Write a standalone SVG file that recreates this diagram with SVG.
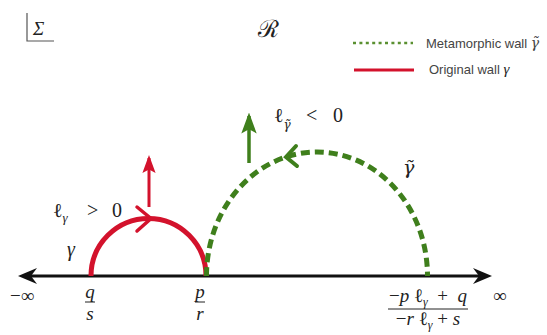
<svg xmlns="http://www.w3.org/2000/svg" width="547" height="335" viewBox="0 0 547 335">
<style>
.math{font-family:"Liberation Serif","DejaVu Serif",serif;fill:#222}
.it{font-style:italic}
.gt{font-family:"DejaVu Serif",serif;font-style:italic}
.leg{font-family:"Liberation Sans",Arial,sans-serif;font-size:13px;fill:#444}
.red{stroke:#d3122c;fill:none}
.grn{stroke:#3f7f1c;fill:none}
</style>
<defs>
<marker id="ahR" markerWidth="6" markerHeight="4.4" refX="5" refY="2.2" orient="auto" markerUnits="strokeWidth">
<path d="M0,0 L6,2.2 L0,4.4 L1.2,2.2 Z" fill="#d3122c"/>
</marker>
<marker id="ahG" markerWidth="6" markerHeight="4.4" refX="5" refY="2.2" orient="auto" markerUnits="strokeWidth">
<path d="M0,0 L6,2.2 L0,4.4 L1.2,2.2 Z" fill="#3f7f1c"/>
</marker>
</defs>
<rect width="547" height="335" fill="#fff"/>

<g id="sigma-box">
<path d="M27,13 V41 H54" stroke="#555" stroke-width="1.2" fill="none"/>
<text x="33" y="35" class="math it" style="font-size:19px">Σ</text>
</g>
<text id="title" x="268" y="37" text-anchor="middle" style="font-family:'DejaVu Serif',serif;font-size:24px" fill="#222">ℛ</text>

<g id="legend">
<line x1="353" y1="43" x2="413" y2="43" stroke="#5a9030" stroke-width="2.5" stroke-dasharray="3 3.4"/>
<text x="426" y="48" class="leg">Metamorphic wall <tspan class="gt" style="font-size:14px">γ̃</tspan></text>
<line x1="354" y1="70" x2="414" y2="70" stroke="#d3122c" stroke-width="3"/>
<text x="429" y="74" class="leg">Original wall <tspan class="math it" style="font-size:15px">γ</tspan></text>
</g>

<g id="connectors">
<g id="axis">
<line x1="24" y1="276" x2="486" y2="276" stroke="#111" stroke-width="3"/>
<path d="M18,276 L37,268 L31,276 L37,284 Z" fill="#111"/>
<path d="M492,276 L473,268 L479,276 L473,284 Z" fill="#111"/>
</g>
<g id="wall-gamma">
<path d="M91,276 A57.5,57.5 0 0 1 206,276" class="red" stroke-width="5"/>
<path d="M137,207 L151,218.5 L137,231" class="red" stroke-width="3.5" stroke-linecap="round"/>
<line x1="149" y1="207" x2="149" y2="158" class="red" stroke-width="3" marker-end="url(#ahR)"/>
</g>
<g id="wall-gamma-tilde">
<path d="M206.5,276 A110.5,124 0 0 1 427.5,276" class="grn" stroke-width="5" stroke-dasharray="9 5"/>
<path d="M296,146 L286,157 L297,166" class="grn" stroke-width="4" stroke-linecap="round"/>
<line x1="249" y1="163" x2="249" y2="116" class="grn" stroke-width="3.5" marker-end="url(#ahG)"/>
</g>
</g>

<g id="labels">
<text x="53" y="217" class="math" style="font-size:20px">ℓ<tspan class="it" dy="5" style="font-size:13px">γ</tspan><tspan dy="-5" x="87">&gt;</tspan><tspan x="112">0</tspan></text>
<text x="67" y="256" class="math it" style="font-size:20px">γ</text>
<text x="274" y="122" class="math" style="font-size:20px">ℓ<tspan class="gt" dy="7" style="font-size:12px">γ̃</tspan><tspan dy="-7" x="306">&lt;</tspan><tspan x="333">0</tspan></text>
<text x="403" y="174" class="gt" fill="#222" style="font-size:19px">γ̃</text>
<text x="10" y="302" class="math" style="font-size:19px">−∞</text>
<text x="493" y="302" class="math" style="font-size:19px">∞</text>
<text x="90" y="298" class="math it" text-anchor="middle" style="font-size:19px">q</text>
<line x1="85" y1="302" x2="95" y2="302" stroke="#222" stroke-width="1"/>
<text x="90" y="320" class="math it" text-anchor="middle" style="font-size:19px">s</text>
<text x="200" y="298" class="math it" text-anchor="middle" style="font-size:19px">p</text>
<line x1="195" y1="302" x2="205" y2="302" stroke="#222" stroke-width="1"/>
<text x="200" y="320" class="math it" text-anchor="middle" style="font-size:19px">r</text>
<text x="428" y="302" class="math" text-anchor="middle" style="font-size:19px;white-space:pre">−<tspan class="it">p</tspan> ℓ<tspan class="it" dy="4" style="font-size:12px">γ</tspan><tspan dy="-4">  +  </tspan><tspan class="it">q</tspan></text>
<line x1="388" y1="309" x2="468" y2="309" stroke="#222" stroke-width="1"/>
<text x="428" y="325" class="math" text-anchor="middle" style="font-size:19px;white-space:pre">−<tspan class="it">r</tspan> ℓ<tspan class="it" dy="4" style="font-size:12px">γ</tspan><tspan dy="-4"> + </tspan><tspan class="it">s</tspan></text>
</g>
</svg>
